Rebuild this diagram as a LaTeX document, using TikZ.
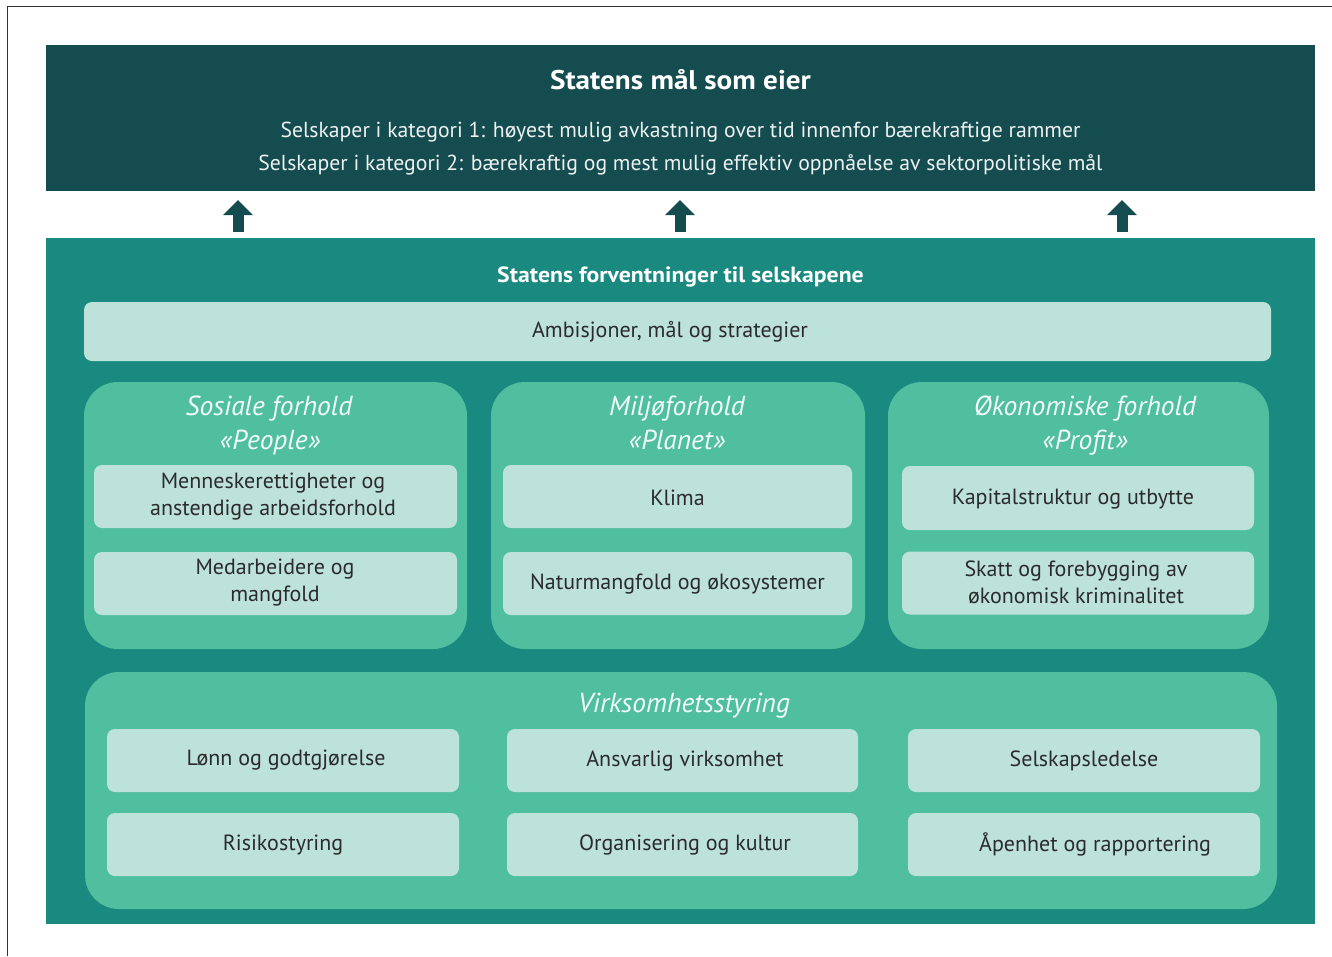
\documentclass[tikz,border=0pt]{standalone}
\usepackage{fontspec}
\setmainfont{PT Sans}
\newfontfamily\widesans[FakeStretch=1.08]{PT Sans}
\usetikzlibrary{arrows.meta}
\definecolor{darkteal}{HTML}{154C4F}
\definecolor{teal2}{HTML}{1A8A80}
\definecolor{midgreen}{HTML}{50BFA0}
\definecolor{lightgreen}{HTML}{BDE2DA}
\definecolor{txtdark}{HTML}{2B2B2B}
\definecolor{txtlight}{HTML}{F2FBF7}
\definecolor{framegray}{HTML}{333333}
\tikzset{
  plainbox/.style={rectangle, inner sep=0pt, draw=none},
  groupbox/.style={plainbox, fill=midgreen, rounded corners=34pt},
  itembox/.style={plainbox, fill=lightgreen, rounded corners=8pt},
  itemtext/.style={text=txtdark, align=center, inner sep=0pt, yshift=-1pt,
     font=\fontsize{22}{27}\selectfont},
  grouptitle/.style={text=txtlight, font=\itshape\fontsize{27.5}{34}\selectfont, inner sep=0pt, anchor=base},
  whitetext/.style={text=white, inner sep=0pt},
  blockarrow/.style={draw=darkteal, line width=11pt, -{Triangle[width=29pt,length=15pt]}},
}
\begin{document}
\begin{tikzpicture}[x=1pt,y=-1pt]
\useasboundingbox (0,0) rectangle (1332,956);
% frame lines
\coordinate (fr1) at (7.5,956);
\coordinate (fr2) at (7.5,6.5);
\coordinate (fr3) at (1332,6.5);
\draw[framegray, line width=1.5pt] (fr1) -- (fr2) -- (fr3);

% top box
\node[plainbox, fill=darkteal, minimum width=1269pt, minimum height=146pt] (top) at (680.5,118) {};
\node[whitetext, font=\widesans\bfseries\fontsize{27}{30}\selectfont] (toptitle) at (680.5,80) {Statens mål som eier};
\node[whitetext, text=white!92!darkteal, font=\fontsize{21.7}{24}\selectfont] (topl1) at (680.5,132) {Selskaper i kategori 1: høyest mulig avkastning over tid innenfor bærekraftige rammer};
\node[whitetext, text=white!92!darkteal, font=\fontsize{21.7}{24}\selectfont] (topl2) at (680.5,165) {Selskaper i kategori 2: bærekraftig og mest mulig effektiv oppnåelse av sektorpolitiske mål};

% lower box
\node[plainbox, fill=teal2, minimum width=1269pt, minimum height=686pt] (lower) at (680.5,581) {};
\node[whitetext, font=\widesans\bfseries\fontsize{22}{24}\selectfont] (lowtitle) at (680.5,276.5) {Statens forventninger til selskapene};

% arrows
\coordinate (a1s) at (238,232); \coordinate (a1e) at (238,200);
\coordinate (a2s) at (680,232); \coordinate (a2e) at (680,200);
\coordinate (a3s) at (1122,232); \coordinate (a3e) at (1122,200);
\draw[blockarrow] (a1s) -- (a1e);
\draw[blockarrow] (a2s) -- (a2e);
\draw[blockarrow] (a3s) -- (a3e);

% ambitions
\node[itembox, minimum width=1187pt, minimum height=59pt] (amb) at (677.5,331.5) {};
\node[itemtext] (ambt) at (670,331) {Ambisjoner, mål og strategier};

% group boxes
\node[groupbox, minimum width=383pt, minimum height=267pt] (sos) at (275.5,515.5) {};
\node[groupbox, minimum width=374pt, minimum height=267pt] (mil) at (678,515.5) {};
\node[groupbox, minimum width=381pt, minimum height=267pt] (oko) at (1078.5,515.5) {};

\node[grouptitle] (sost1) at (269,415.5) {Sosiale forhold};
\node[grouptitle] (sost2) at (270,449.5) {«People»};
\node[grouptitle] (milt1) at (677,415.5) {Miljøforhold};
\node[grouptitle] (milt2) at (677,449.5) {«Planet»};
\node[grouptitle] (okot1) at (1085,415.5) {Økonomiske forhold};
\node[grouptitle] (okot2) at (1085,449.5) {«Profit»};

\node[itembox, minimum width=363pt, minimum height=63pt] (s1) at (275.5,496.5) {};
\node[itemtext] (s1t) at (273,496) {Menneskerettigheter og\\anstendige arbeidsforhold};
\node[itembox, minimum width=363pt, minimum height=63pt] (s2) at (275.5,583.5) {};
\node[itemtext] (s2t) at (275,582) {Medarbeidere og\\mangfold};
\node[itembox, minimum width=349pt, minimum height=63pt] (m1) at (677.5,496.5) {};
\node[itemtext] (m1t) at (677.5,496.5) {Klima};
\node[itembox, minimum width=349pt, minimum height=63pt] (m2) at (677.5,583.5) {};
\node[itemtext] (m2t) at (677.5,583) {Naturmangfold og økosystemer};
\node[itembox, minimum width=352pt, minimum height=64pt] (o1) at (1078,498) {};
\node[itemtext] (o1t) at (1073,498) {Kapitalstruktur og utbytte};
\node[itembox, minimum width=352pt, minimum height=63pt] (o2) at (1078,583) {};
\node[itemtext] (o2t) at (1076,581) {Skatt og forebygging av\\økonomisk kriminalitet};

% governance
\node[groupbox, minimum width=1192pt, minimum height=237pt] (virk) at (681,790.5) {};
\node[grouptitle] (virkt) at (684,712) {Virksomhetsstyring};
\node[itembox, minimum width=352pt, minimum height=63pt] (v1) at (283,760.5) {};
\node[itemtext] (v1t) at (286,759.5) {Lønn og godtgjørelse};
\node[itembox, minimum width=352pt, minimum height=63pt] (v2) at (283,844.5) {};
\node[itemtext] (v2t) at (283,844) {Risikostyring};
\node[itembox, minimum width=351pt, minimum height=63pt] (v3) at (682.5,760.5) {};
\node[itemtext] (v3t) at (685,759.5) {Ansvarlig virksomhet};
\node[itembox, minimum width=351pt, minimum height=63pt] (v4) at (682.5,844.5) {};
\node[itemtext] (v4t) at (685,844) {Organisering og kultur};
\node[itembox, minimum width=352pt, minimum height=63pt] (v5) at (1084,760.5) {};
\node[itemtext] (v5t) at (1084,759.5) {Selskapsledelse};
\node[itembox, minimum width=352pt, minimum height=63pt] (v6) at (1084,844.5) {};
\node[itemtext] (v6t) at (1095,843) {Åpenhet og rapportering};
\end{tikzpicture}
\end{document}
